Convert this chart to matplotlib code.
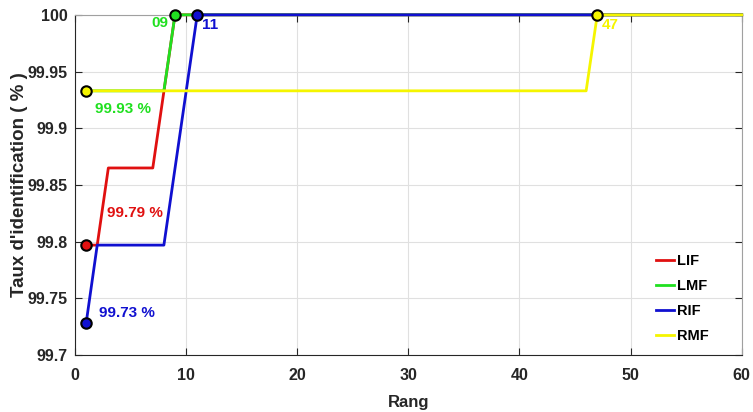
import matplotlib
matplotlib.use("Agg")
import matplotlib.pyplot as plt

plt.rcParams['font.family'] = ['Liberation Sans', 'DejaVu Sans']
plt.rcParams['font.weight'] = 'bold'

# Data
lif_x = [1, 2, 3, 7, 9, 60]
lif_y = [99.797, 99.797, 99.865, 99.865, 100, 100]
lmf_x = [1, 8, 9, 60]
lmf_y = [99.933, 99.933, 100, 100]
rif_x = [1, 2, 8, 11, 60]
rif_y = [99.728, 99.797, 99.797, 100, 100]
rmf_x = [1, 46, 47, 60]
rmf_y = [99.933, 99.933, 100, 100]

labels = ["LIF", "LMF", "RIF", "RMF"]
colors = ["#e01010", "#20e020", "#1010d0", "#f5f500"]

fig = plt.figure(figsize=(7.53, 4.12), dpi=100)
ax = fig.add_axes([0.0996, 0.138, 0.8854, 0.826])

ax.plot(lif_x, lif_y, color=colors[0], lw=2, label=labels[0], zorder=3, clip_on=False)
ax.plot(lmf_x, lmf_y, color=colors[1], lw=2, label=labels[1], zorder=3, clip_on=False)
ax.plot(rif_x, rif_y, color=colors[2], lw=2, label=labels[2], zorder=3, clip_on=False)
ax.plot(rmf_x, rmf_y, color=colors[3], lw=2, label=labels[3], zorder=4, clip_on=False)

mk = dict(marker='o', ms=7.5, mec='black', mew=1.5, ls='none', zorder=5, clip_on=False)
ax.plot(lif_x[0], lif_y[0], mfc=colors[0], **mk)
ax.plot(rif_x[0], rif_y[0], mfc=colors[2], **mk)
ax.plot(rmf_x[0], rmf_y[0], mfc=colors[3], **mk)
ax.plot(lmf_x[2], lmf_y[2], mfc=colors[1], **mk)
ax.plot(rif_x[3], rif_y[3], mfc=colors[2], **mk)
ax.plot(rmf_x[2], rmf_y[2], mfc=colors[3], **mk)

tk = dict(fontsize=11, fontweight='bold', zorder=6)
ax.text(1.8, 99.917, "99.93 %", color=colors[1], va='center', ha='left', **tk)
ax.text(2.9, 99.825, "99.79 %", color=colors[0], va='center', ha='left', **tk)
ax.text(2.2, 99.737, "99.73 %", color=colors[2], va='center', ha='left', **tk)
ax.text(8.4, 99.993, "09", color=colors[1], va='center', ha='right', **tk)
ax.text(11.4, 99.991, "11", color=colors[2], va='center', ha='left', **tk)
ax.text(47.4, 99.991, "47", color=colors[3], va='center', ha='left', **tk)

ax.set_xlim(0, 60)
ax.set_ylim(99.7, 100)
ax.set_xticks([0, 10, 20, 30, 40, 50, 60])
ax.set_yticks([99.7, 99.75, 99.8, 99.85, 99.9, 99.95, 100])
ax.set_yticklabels(["99.7", "99.75", "99.8", "99.85", "99.9", "99.95", "100"])
ax.grid(True, color='#e0e0e0', lw=0.8)
ax.set_axisbelow(True)
ax.tick_params(direction='in', labelsize=11.5, colors='#262626', length=5,
               top=True, right=True)
ax.tick_params(axis='x', pad=9)
ax.tick_params(axis='y', pad=5)
for lab in ax.get_xticklabels() + ax.get_yticklabels():
    lab.set_fontweight('bold')
for s in ax.spines.values():
    s.set_color('#262626')
    s.set_linewidth(0.8)
ax.spines['top'].set_color('#a0a0a0')
ax.spines['right'].set_color('#a0a0a0')

ax.set_xlabel("Rang", fontsize=12, fontweight='bold', color='#262626', labelpad=9)
ax.set_ylabel("Taux d'identification ( % )", fontsize=13.5, fontweight='bold',
              color='#262626')
ax.yaxis.set_label_coords(-0.07, 0.5)

leg = ax.legend(loc='upper left', bbox_to_anchor=(0.872, 0.297), fontsize=10.5,
                frameon=False, handlelength=1.2, handletextpad=0.2,
                labelspacing=0.75, borderpad=0, borderaxespad=0)
for t in leg.get_texts():
    t.set_fontweight('bold')

fig.savefig("out.png", dpi=100)
